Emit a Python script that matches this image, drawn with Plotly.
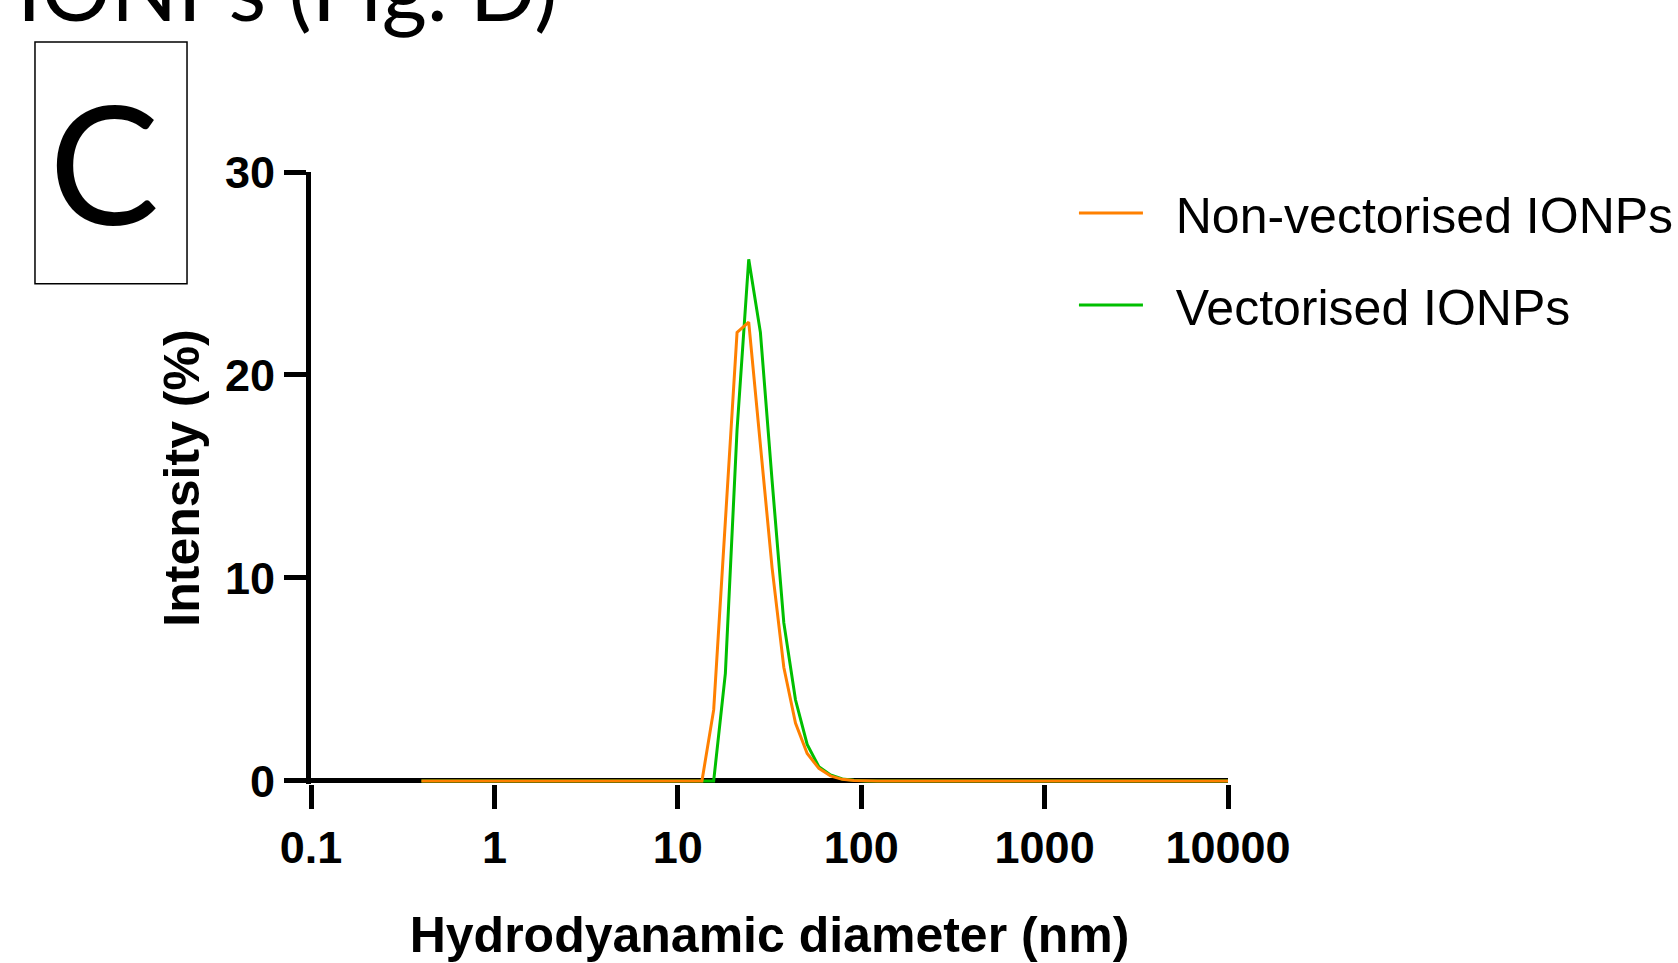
import plotly.graph_objects as go

# Malvern size bins (nm)
diameter_nm = [0.4, 0.4632, 0.5365, 0.6213, 0.7195, 0.8332, 0.9649, 1.117, 1.294, 1.499,
               1.736, 2.01, 2.328, 2.696, 3.122, 3.615, 4.187, 4.849, 5.615, 6.503,
               7.531, 8.721, 10.1, 11.7, 13.54, 15.69, 18.17, 21.04, 24.36, 28.21,
               32.67, 37.84, 43.82, 50.75, 58.77, 68.06, 78.82, 91.28, 105.7, 122.4,
               141.8, 164.2, 190.1, 220.2, 255.0, 295.3, 342.0, 396.1, 458.7, 531.2,
               615.1, 712.4, 825.0, 955.4, 1106, 1281, 1484, 1718, 1990, 2305,
               2669, 3091, 3580, 4145, 4801, 5560, 6439, 7456, 8635, 10000]

non_vectorised = [0, 0, 0, 0, 0, 0, 0, 0, 0, 0,
                  0, 0, 0, 0, 0, 0, 0, 0, 0, 0,
                  0, 0, 0, 0, 0, 3.5, 12.8, 22.1, 22.6, 16.5,
                  10.5, 5.6, 2.85, 1.35, 0.62, 0.25, 0.08, 0.02, 0, 0,
                  0, 0, 0, 0, 0, 0, 0, 0, 0, 0,
                  0, 0, 0, 0, 0, 0, 0, 0, 0, 0,
                  0, 0, 0, 0, 0, 0, 0, 0, 0, 0]

vectorised = [0, 0, 0, 0, 0, 0, 0, 0, 0, 0,
              0, 0, 0, 0, 0, 0, 0, 0, 0, 0,
              0, 0, 0, 0, 0, 0, 5.3, 17.3, 25.7, 22.1,
              14.8, 7.8, 4.0, 1.8, 0.7, 0.3, 0.1, 0.03, 0, 0,
              0, 0, 0, 0, 0, 0, 0, 0, 0, 0,
              0, 0, 0, 0, 0, 0, 0, 0, 0, 0,
              0, 0, 0, 0, 0, 0, 0, 0, 0, 0]

series_names = ["Non-vectorised IONPs", "Vectorised IONPs"]
series_colors = ["#FF8000", "#00BF00"]

x_tickvals = [0.1, 1, 10, 100, 1000, 10000]
x_ticktext = ["0.1", "1", "10", "100", "1000", "10000"]
y_tickvals = [0, 10, 20, 30]
y_ticktext = ["0", "10", "20", "30"]

pad = "\u00a0\u00a0"

fig = go.Figure()
fig.add_trace(go.Scatter(x=diameter_nm, y=vectorised, mode="lines",
                         name=pad + series_names[1], legendgroup="v", legendrank=2,
                         line=dict(color=series_colors[1], width=3)))
fig.add_trace(go.Scatter(x=diameter_nm, y=non_vectorised, mode="lines",
                         name=pad + series_names[0], legendgroup="nv", legendrank=1,
                         line=dict(color=series_colors[0], width=3)))

tick_font = dict(family="Liberation Sans, Arial, sans-serif", size=45, color="black", weight="bold")
title_font = dict(family="Liberation Sans, Arial, sans-serif", size=50, color="black", weight="bold")

fig.update_layout(
    width=1678, height=963,
    margin=dict(l=311, r=450, t=172, b=179, autoexpand=False),
    paper_bgcolor="white", plot_bgcolor="white",
    showlegend=True,
    legend=dict(
        traceorder="grouped", tracegroupgap=24,
        x=0.832, xanchor="left", y=0.9967, yanchor="top",
        font=dict(family="Liberation Sans, Arial, sans-serif", size=50, color="black"),
        bgcolor="rgba(0,0,0,0)",
        itemwidth=64,
    ),
    xaxis=dict(
        type="log", range=[-1, 4],
        tickvals=x_tickvals, ticktext=x_ticktext,
        showgrid=False, zeroline=False, showline=False,
        ticks="outside", ticklen=24, tickwidth=5, tickcolor="black",
        tickfont=tick_font, automargin=False,
        title=dict(text="Hydrodyanamic diameter (nm)", font=title_font, standoff=45),
    ),
    yaxis=dict(
        range=[-0.15, 30],
        tickvals=y_tickvals, ticktext=y_ticktext,
        showgrid=False,
        zeroline=True, zerolinecolor="black", zerolinewidth=5,
        showline=True, linecolor="black", linewidth=5,
        ticks="outside", ticklen=22, tickwidth=5, tickcolor="black",
        tickfont=tick_font, automargin=False,
        title=dict(text="Intensity (%)", font=title_font, standoff=11),
        layer="below traces",
    ),
)

# Panel label box
fig.add_shape(type="rect", xref="paper", yref="paper",
              x0=-0.301, x1=-0.1352, y0=0.8176, y1=1.2124,
              line=dict(color="black", width=1.5), fillcolor="rgba(0,0,0,0)")
fig.add_annotation(text="C", xref="paper", yref="paper", x=-0.2252, y=1.0172,
                   xanchor="center", yanchor="middle", showarrow=False,
                   font=dict(family="Lato, Open Sans, sans-serif", size=165, color="black"))
# Partially visible heading from the page above
fig.add_annotation(text="IONPs (Fig. D)", xref="paper", yref="paper", x=-0.3233, y=1.3007,
                   xanchor="left", yanchor="middle", showarrow=False,
                   font=dict(family="Lato, Open Sans, sans-serif", size=87, color="black"))

fig.write_html("out.html", config={"displayModeBar": False},
               post_script="document.body.style.margin='0px';")
